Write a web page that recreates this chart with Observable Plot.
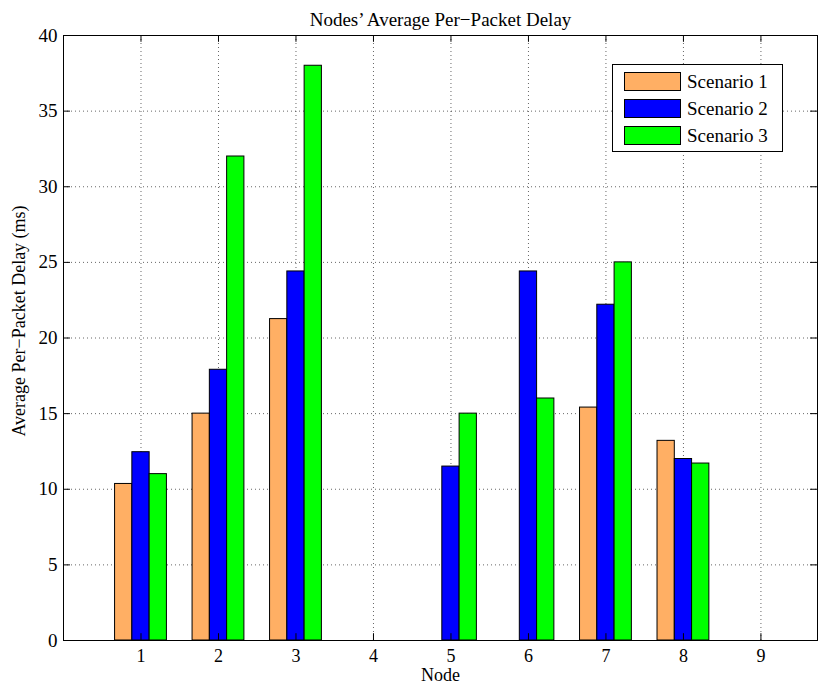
<!DOCTYPE html>
<html>
<head>
<meta charset="utf-8">
<script src="https://cdn.jsdelivr.net/npm/d3@7"></script>
<script src="https://cdn.jsdelivr.net/npm/@observablehq/plot@0.6"></script>
<style>
  html, body { margin: 0; padding: 0; background: #fff; }
  #chart { position: relative; width: 827px; height: 687px; font-family: "Liberation Serif", "Times New Roman", serif; }
  .legend { position: absolute; left: 612px; top: 64px; width: 169px; height: 86px; border: 1px solid #000; background: #fff; }
  .legend .row { position: absolute; left: 11px; height: 21px; display: flex; align-items: center; }
  .legend .sw { width: 57px; height: 19px; border: 1px solid #000; box-sizing: border-box; }
  .legend .lab { margin-left: 6px; font-size: 19px; color: #000; line-height: 1; }
</style>
</head>
<body>
<div id="chart"></div>
<script>
// Average per-packet delay (ms) per node, for each scenario
const nodes = [1, 2, 3, 4, 5, 6, 7, 8, 9];
const scenario1 = [10.35, 15.0, 21.25, 0, 0, 0, 15.4, 13.2, 0];
const scenario2 = [12.45, 17.9, 24.4, 0, 11.5, 24.4, 22.2, 12.0, 0];
const scenario3 = [11.0, 32.0, 38.0, 0, 15.0, 16.0, 25.0, 11.7, 0];
const seriesNames = ["Scenario 1", "Scenario 2", "Scenario 3"];
const seriesColors = ["#FFAF64", "#0000FF", "#00FF00"];
const yTicks = [0, 5, 10, 15, 20, 25, 30, 35, 40];

const title = "Nodes’ Average Per−Packet Delay";
const xLabel = "Node";
const yLabel = "Average Per−Packet Delay (ms)";

// Grouped bar layout in node units
const xMax = 9.73;
const barW = 0.223;
const tickLenX = 0.09;
const tickLenY = 0.45;

const allSeries = [scenario1, scenario2, scenario3];
const bars = [];
allSeries.forEach((vals, s) => {
  vals.forEach((v, i) => {
    const c = nodes[i] + (s - 1) * barW;
    bars.push({node: nodes[i], series: seriesNames[s], value: v, x1: c - barW / 2, x2: c + barW / 2});
  });
});
const nonZero = bars.filter(d => d.value > 0);

const grid = {stroke: "#000", strokeOpacity: 0.6, strokeDasharray: "1,3"};

const plot = Plot.plot({
  width: 827,
  height: 687,
  marginLeft: 63,
  marginRight: 10,
  marginTop: 35,
  marginBottom: 47,
  style: {fontFamily: "Liberation Serif, Times New Roman, serif", fontSize: "19px", color: "#000", background: "#fff", overflow: "visible"},
  x: {domain: [0, xMax], axis: null, label: null},
  y: {domain: [0, 40], axis: null, label: null},
  color: {domain: seriesNames, range: seriesColors},
  marks: [
    Plot.gridY(yTicks, grid),
    Plot.gridX(nodes, grid),
    Plot.rectY(nonZero, {x1: "x1", x2: "x2", y1: 0, y2: "value", fill: "series", stroke: "#000", strokeWidth: 1}),
    Plot.frame({stroke: "#000", strokeWidth: 1}),
    // inward tick marks on all four sides
    Plot.ruleY(yTicks, {x1: 0, x2: tickLenX, stroke: "#000"}),
    Plot.ruleY(yTicks, {x1: xMax - tickLenX, x2: xMax, stroke: "#000"}),
    Plot.ruleX(nodes, {y1: 0, y2: tickLenY, stroke: "#000"}),
    Plot.ruleX(nodes, {y1: 40 - tickLenY, y2: 40, stroke: "#000"}),
    Plot.axisY(yTicks, {tickSize: 0, tickPadding: 6, fontSize: 19, label: null}),
    Plot.axisX(nodes, {tickSize: 0, tickPadding: 9, fontSize: 18, label: null}),
    Plot.text([title], {frameAnchor: "top", dy: -23, fontSize: 19}),
    Plot.text([xLabel], {frameAnchor: "bottom", dy: 40, fontSize: 18}),
    Plot.text([yLabel], {frameAnchor: "left", textAnchor: "middle", rotate: -90, dx: -44, dy: -17, fontSize: 18})
  ]
});

const root = document.getElementById("chart");
root.appendChild(plot);

// Legend box in the upper right of the plot area
const legend = document.createElement("div");
legend.className = "legend";
seriesNames.forEach((name, i) => {
  const row = document.createElement("div");
  row.className = "row";
  row.style.top = (6 + i * 27) + "px";
  const sw = document.createElement("div");
  sw.className = "sw";
  sw.style.background = seriesColors[i];
  const lab = document.createElement("span");
  lab.className = "lab";
  lab.textContent = name;
  row.appendChild(sw);
  row.appendChild(lab);
  legend.appendChild(row);
});
root.appendChild(legend);
</script>
</body>
</html>
